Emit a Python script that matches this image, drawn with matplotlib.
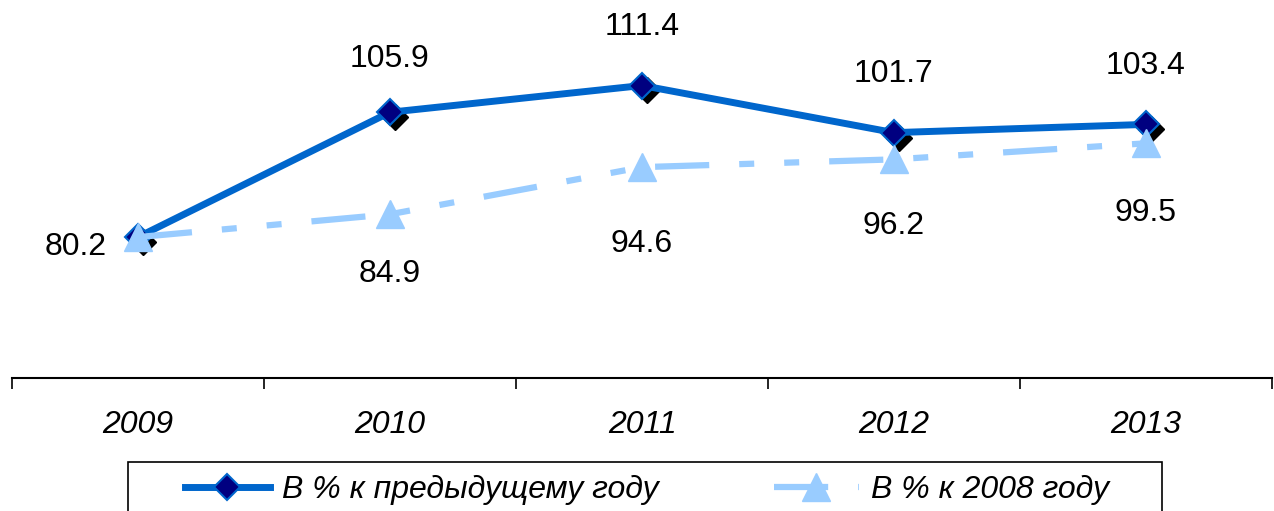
import numpy as np
import matplotlib
matplotlib.use("agg")
import matplotlib.pyplot as plt
import matplotlib.transforms as mtransforms
from matplotlib.lines import Line2D
from matplotlib.patches import Rectangle

plt.rcParams['font.family'] = ['Liberation Sans', 'DejaVu Sans']
plt.rcParams['lines.scale_dashes'] = False

years = ['2009', '2010', '2011', '2012', '2013']
prev_year = [80.2, 105.9, 111.4, 101.7, 103.4]
vs_2008 = [80.2, 84.9, 94.6, 96.2, 99.5]
label_prev = 'В % к предыдущему году'
label_2008 = 'В % к 2008 году'

dark_blue = '#0066CC'
navy = '#000080'
light_blue = '#99CCFF'
fs = 23

fig = plt.figure(figsize=(12.74, 5.11), dpi=100)
ax = fig.add_axes([12/1274, 1-378/511, 1260/1274, 378/511])
x = np.arange(len(years))

# shadow of diamonds
shadow = mtransforms.offset_copy(ax.transData, fig=fig, x=3.5, y=-3.5, units='points')
ax.plot(x, prev_year, linestyle='none', marker='D', markersize=13, color='black',
        transform=shadow, zorder=2)
ax.plot(x, prev_year, color=dark_blue, lw=5, marker='D', markersize=13,
        markerfacecolor=navy, markeredgecolor=dark_blue, markeredgewidth=1.5, zorder=3)
ax.plot(x, vs_2008, color=light_blue, lw=4.5, dashes=(39, 21.6, 10.8, 21.6, 10.8, 21.6),
        marker='^', markersize=20, markerfacecolor=light_blue, markeredgecolor=light_blue,
        zorder=4)

offs_prev = [(-45, -7), (0, 38), (0, 42), (0, 42), (0, 42)]
for i, v in enumerate(prev_year):
    ax.annotate(f'{v:.1f}', (x[i], v), xytext=offs_prev[i], textcoords='offset points',
                ha='center', va='center', fontsize=fs)
offs_2008 = [None, (0, -43), (0, -55), (0, -48), (0, -50)]
for i, v in enumerate(vs_2008):
    if offs_2008[i] is None:
        continue
    ax.annotate(f'{v:.1f}', (x[i], v), xytext=offs_2008[i], textcoords='offset points',
                ha='center', va='center', fontsize=fs)

ax.set_xlim(-0.5, len(years) - 0.5)
ax.set_ylim(51.2, 129)
for s in ['top', 'right', 'left']:
    ax.spines[s].set_visible(False)
ax.spines['bottom'].set_linewidth(1.5)
ax.set_yticks([])
ax.set_xticks(x)
ax.set_xticklabels(years, fontsize=fs, style='italic')
ax.tick_params(axis='x', which='major', length=0, pad=23)
ax.set_xticks(np.arange(-0.5, len(years)), minor=True)
ax.tick_params(axis='x', which='minor', length=8, width=1.2, direction='out')

# legend frame
fig.patches.append(Rectangle((128/1274, -0.05), (1162-128)/1274, 0.05 + 49/511,
                             transform=fig.transFigure, fill=False, edgecolor='black',
                             linewidth=1.2))
handles = [
    Line2D([], [], color=dark_blue, lw=5, marker='D', markersize=13,
           markerfacecolor=navy, markeredgecolor=dark_blue, markeredgewidth=1.5),
    Line2D([], [], color=light_blue, lw=4.5, dashes=(39, 21.6, 10.8, 21.6),
           marker='^', markersize=20, markerfacecolor=light_blue, markeredgecolor=light_blue),
]
leg = fig.legend(handles, [label_prev, label_2008], loc='center left',
                 bbox_to_anchor=(185/1274, 1-490/511), ncol=2, frameon=False,
                 handlelength=2.65, columnspacing=3.6, borderpad=0, borderaxespad=0,
                 handletextpad=0.4, prop={'style': 'italic', 'size': fs})

fig.savefig('out.png', dpi=100)
